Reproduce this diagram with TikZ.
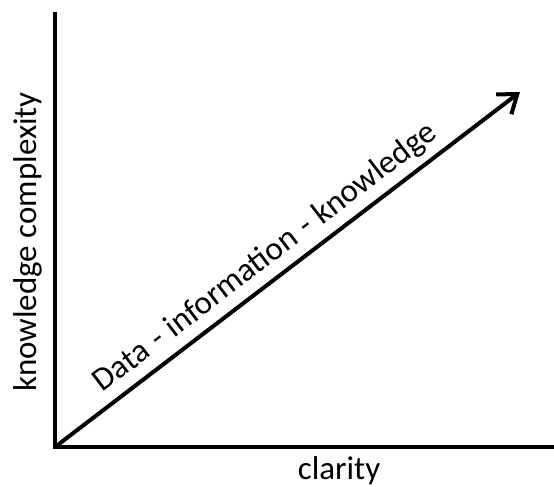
\documentclass[tikz,border=0pt]{standalone}
\usepackage{fontspec}
\setmainfont{Carlito}
\usetikzlibrary{arrows.meta}
\begin{document}
\begin{tikzpicture}[x=1pt,y=1pt,
  axisline/.style={line width=4.6pt},
  trendline/.style={line width=4pt,-{Straight Barb[length=17pt,width=25pt,line width=4pt]}},
  lbl/.style={font=\fontsize{33}{38}\selectfont,inner sep=0pt}]
\useasboundingbox (0,0) rectangle (554,487);
\coordinate (O) at (55,40);
\coordinate (Ytop) at (55,475);
\coordinate (Xend) at (554,40);
\coordinate (T) at (520,395);
\draw[axisline] (Ytop) -- (O) -- (Xend);
\draw[trendline] (O) -- (T);
\node[lbl,anchor=base,rotate=90] (ylab) at (36,245) {knowledge complexity};
\node[lbl,anchor=base] (xlab) at (339,7) {clarity};
\path (O) -- (T) node[lbl,pos=0.482,sloped,anchor=base,yshift=14pt] (diag) {Data \hspace{1.5pt}- \hspace{1.5pt}information \hspace{1.5pt}- \hspace{1.5pt}knowledge};
\end{tikzpicture}
\end{document}
